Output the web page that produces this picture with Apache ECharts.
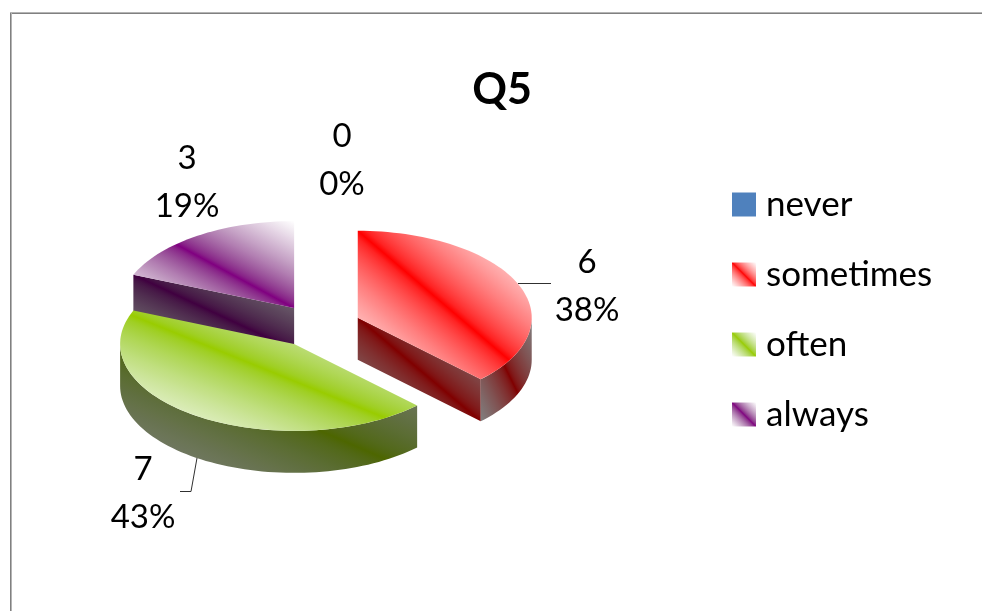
<!DOCTYPE html>
<html>
<head>
<meta charset="utf-8">
<style>
  html, body { margin: 0; padding: 0; background: #fff; }
  #chart { width: 982px; height: 611px; }
</style>
<script src="https://cdn.jsdelivr.net/npm/echarts@6/dist/echarts.min.js"></script>
</head>
<body>
<div id="chart"></div>
<script>
  var titleText = 'Q5';
  var categories = ['never', 'sometimes', 'often', 'always'];
  var counts = [0, 6, 7, 3];
  // printed on the chart, they add up to 100 so 7 shows as 43%
  var percentLabels = ['0%', '38%', '43%', '19%'];

  //pie geometry, the projected ellipse and the extrusion
  var pie = {cx: 318, cy: 326, rx: 174, ry: 87, depth: 42, explode: 43};
  var fontName = 'Lato, "Open Sans", sans-serif';

  //top face colour, side colour, label position, draw order
  var looks = [
    {top: '#4f81bd', side: '#27405e', label: [342, 136], z: 2},
    {top: '#ff0000', side: '#800000', label: [587, 262], z: 3},
    {top: '#99cc00', side: '#4d6600', label: [143, 469], z: 4},
    {top: '#800080', side: '#400040', label: [187, 158], z: 2}
  ];

  var total = counts.reduce(function (a, b) { return a + b; }, 0);

  function rad(deg) {
    return deg * Math.PI / 180;
  }

  //angle measured clockwise from the top of the pie
  function rimPoint(c, deg, drop) {
    return [c[0] + pie.rx * Math.sin(rad(deg)), c[1] - pie.ry * Math.cos(rad(deg)) + (drop || 0)];
  }

  function arcPoints(c, from, to, drop) {
    var pts = [];
    var steps = Math.max(2, Math.ceil(Math.abs(to - from) / 2));
    for (var i = 0; i <= steps; i++) {
      pts.push(rimPoint(c, from + (to - from) * i / steps, drop));
    }
    return pts;
  }

  function rgbOf(hex) {
    return [1, 3, 5].map(function (i) { return parseInt(hex.substr(i, 2), 16); });
  }

  //blend with a gamma, a plain linear gradient looks too saturated
  function blend(a, b, f) {
    var ca = rgbOf(a), cb = rgbOf(b);
    var out = ca.map(function (v, i) {
      return Math.round(Math.pow((1 - f) * Math.pow(v, 1.5) + f * Math.pow(cb[i], 1.5), 1 / 1.5));
    });
    return 'rgb(' + out.join(',') + ')';
  }

  function stripeStops(mid, edge) {
    var stops = [];
    for (var i = 0; i <= 40; i++) {
      stops.push({offset: i / 40, color: blend(mid, edge, Math.abs(i - 20) / 20)});
    }
    return stops;
  }

  //office style shading, the stripe runs along the box diagonal, corners fade out
  function stripeFill(points, mid, edge) {
    var xs = points.map(function (p) { return p[0]; });
    var ys = points.map(function (p) { return p[1]; });
    var x0 = Math.min.apply(null, xs), x1 = Math.max.apply(null, xs);
    var y0 = Math.min.apply(null, ys), y1 = Math.max.apply(null, ys);
    var w = x1 - x0, h = y1 - y0;
    var mx = (x0 + x1) / 2, my = (y0 + y1) / 2;
    var len2 = w * w + h * h;
    var dx = h * w * h / len2, dy = -w * w * h / len2;
    return new echarts.graphic.LinearGradient(mx - dx, my - dy, mx + dx, my + dy, stripeStops(mid, edge), true);
  }

  function face(points, mid, edge) {
    return {
      type: 'polygon',
      shape: {points: points},
      style: {fill: stripeFill(points, mid, edge), stroke: null}
    };
  }

  function cutFace(c, deg, look) {
    var a = rimPoint(c, deg);
    return face([c, a, [a[0], a[1] + pie.depth], [c[0], c[1] + pie.depth]], look.side, '#808080');
  }

  function makeRender(index) {
    return function (params, api) {
      var value = api.value(0);
      var look = looks[index];
      var before = counts.slice(0, index).reduce(function (a, b) { return a + b; }, 0);
      var start = before / total * 360;
      var end = (before + value) / total * 360;
      var mid = rad((start + end) / 2);
      var c = [
        pie.cx + pie.explode * Math.sin(mid),
        pie.cy - pie.explode * 0.5 * Math.cos(mid)
      ];
      var children = [];

      if (value > 0) {
        //the two cut faces, only when they look towards the viewer
        if (Math.sin(rad(start)) < -0.001) {
          children.push(cutFace(c, start, look));
        }
        if (Math.sin(rad(end)) > 0.001) {
          children.push(cutFace(c, end, look));
        }
        //outer wall, front half of the ellipse only
        var wallFrom = Math.max(start, 90), wallTo = Math.min(end, 270);
        if (wallTo > wallFrom) {
          var wall = arcPoints(c, wallFrom, wallTo, 0).concat(arcPoints(c, wallTo, wallFrom, pie.depth));
          children.push(face(wall, look.side, '#808080'));
        }
        //top face
        children.push(face([c].concat(arcPoints(c, start, end, 0)), look.top, '#ffffff'));
      }

      children.push({
        type: 'text',
        z2: 10,
        style: {
          x: look.label[0],
          y: look.label[1] + 24,
          text: value + '\n' + percentLabels[index],
          fill: '#000',
          font: '33px ' + fontName,
          lineHeight: 48,
          align: 'center',
          verticalAlign: 'middle'
        }
      });

      return {type: 'group', children: children};
    };
  }

  //leader lines from the pie to the labels
  var leaders = [
    [[518, 283.5], [551, 283.5]],
    [[197, 458], [191, 491.5], [180, 491.5]]
  ];

  var chart = echarts.init(document.getElementById('chart'), null, {renderer: 'canvas'});

  var option = {
    backgroundColor: '#fff',
    animation: false,
    title: {
      text: titleText,
      left: 497,
      top: 64,
      textAlign: 'center',
      textStyle: {fontFamily: fontName, fontSize: 43, fontWeight: 'bold', color: '#000'}
    },
    legend: {
      orient: 'vertical',
      left: 727,
      top: 182,
      itemWidth: 24,
      itemHeight: 24,
      itemGap: 35,
      icon: 'rect',
      selectedMode: false,
      textStyle: {fontFamily: fontName, fontSize: 35, color: '#000', padding: [0, 0, 0, 5]},
      data: categories.map(function (name, i) {
        return {
          name: name,
          itemStyle: {
            color: i === 0 ? looks[0].top : new echarts.graphic.LinearGradient(0, 1, 1, 0, stripeStops(looks[i].top, '#ffffff'))
          }
        };
      })
    },
    graphic: [
      //chart frame, only top and left show in the crop
      {type: 'rect', silent: true, shape: {x: 10, y: 12, width: 972, height: 1}, style: {fill: '#b4b4b4'}},
      {type: 'rect', silent: true, shape: {x: 10, y: 13, width: 972, height: 1}, style: {fill: '#808080'}},
      {type: 'rect', silent: true, shape: {x: 10, y: 13, width: 1, height: 598}, style: {fill: '#808080'}},
      {type: 'rect', silent: true, shape: {x: 11, y: 13, width: 1, height: 598}, style: {fill: '#b4b4b4'}}
    ].concat(leaders.map(function (pts) {
      return {type: 'polyline', silent: true, shape: {points: pts}, style: {stroke: '#303030', lineWidth: 1, fill: null}};
    })),
    series: categories.map(function (name, i) {
      return {
        type: 'custom',
        name: name,
        coordinateSystem: 'none',
        z: looks[i].z,
        silent: true,
        data: [[counts[i]]],
        renderItem: makeRender(i)
      };
    })
  };

  chart.setOption(option);
</script>
</body>
</html>
